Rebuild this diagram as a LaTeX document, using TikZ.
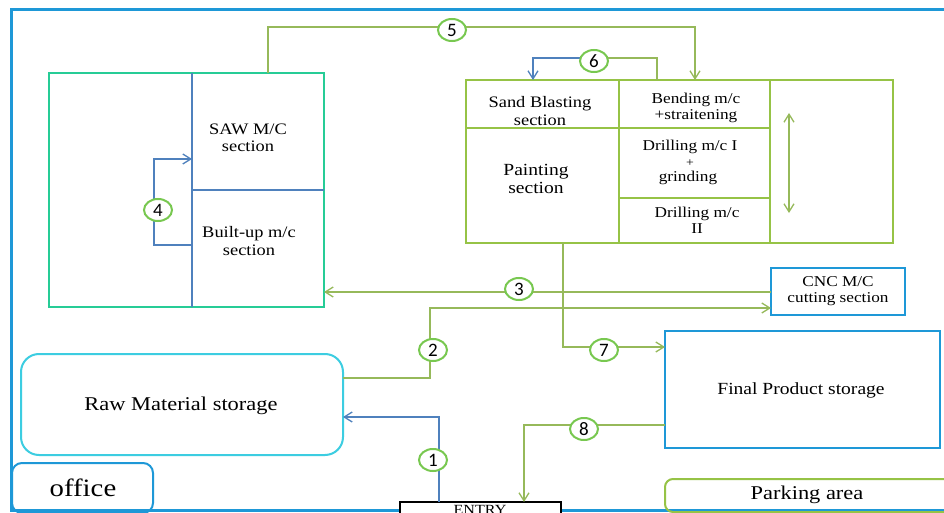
\documentclass[tikz,border=0pt]{standalone}
\usepackage{fontspec}
\setmainfont[FakeStretch=1.15]{Liberation Serif}
\newfontfamily\numfont{Carlito}
\usetikzlibrary{arrows.meta,shapes.geometric,calc}
\definecolor{framec}{RGB}{30,152,215}
\definecolor{tealc}{RGB}{38,204,150}
\definecolor{blueln}{RGB}{79,129,189}
\definecolor{greenbox}{RGB}{150,195,70}
\definecolor{greenln}{RGB}{150,185,90}
\definecolor{circc}{RGB}{120,200,80}
\definecolor{rawc}{RGB}{60,205,225}
\newcommand\myfsz[1]{\fontsize{#1}{\fpeval{#1*1.08}}\selectfont}
\tikzset{
  fs/.style={font=\myfsz{#1}},
  boxbase/.style={inner sep=0pt, outer sep=0pt, anchor=north west, line width=2.6pt},
  tealbox/.style={boxbase, draw=tealc},
  greenbx/.style={boxbase, draw=greenbox},
  bluebx/.style={boxbase, draw=framec},
  rawbx/.style={boxbase, draw=rawc, rounded corners=18pt, line width=2pt},
  officebx/.style={boxbase, draw=framec, rounded corners=10pt, line width=2pt},
  parkbx/.style={boxbase, draw=greenbox, rounded corners=8pt, line width=2pt},
  entrybx/.style={boxbase, draw=black, line width=2pt, fill=white},
  cell/.style={align=center, inner sep=0pt},
  num/.style={ellipse, draw=circc, line width=2pt, fill=white, minimum width=28pt, minimum height=22pt, inner sep=0pt, font=\numfont\fontsize{19}{19}\selectfont},
  arr/.style={-{Straight Barb[length=8pt,width=10pt]}},
  gline/.style={draw=greenln, line width=1.3pt},
  bline/.style={draw=blueln, line width=1.3pt},
  gdiv/.style={draw=greenbox, line width=1.3pt},
  bdiv/.style={draw=blueln, line width=1.3pt},
}
\begin{document}
\begin{tikzpicture}[x=1pt,y=-1pt]
\clip (0,0) rectangle (944,513);
\fill[white] (0,0) rectangle (944,513);
% outer frame
\draw[framec, line width=3pt] (11,10) rectangle (970,510);

% boxes
\node[tealbox, minimum width=275pt, minimum height=234pt] (saw) at (49,73) {};
\node[greenbx, minimum width=427pt, minimum height=163pt] (shop) at (466,80) {};
\node[bluebx, minimum width=134pt, minimum height=47pt] (cnc) at (771,268) {};
\node[bluebx, minimum width=275pt, minimum height=117pt] (final) at (665,331) {};
\node[rawbx, minimum width=322pt, minimum height=101pt] (raw) at (21,354) {};
\node[officebx, minimum width=141pt, minimum height=50pt] (office) at (12,463) {};
\node[parkbx, minimum width=300pt, minimum height=33pt] (park) at (665,479) {};
\node[entrybx, minimum width=161pt, minimum height=30pt] (entry) at (400,502) {};

% dividers
\draw[bdiv] (192,73) -- (192,307);
\draw[bdiv] (192,190) -- (324,190);
\draw[gdiv] (619,80) -- (619,243);
\draw[gdiv] (770,80) -- (770,243);
\draw[gdiv] (466,128) -- (770,128);
\draw[gdiv] (619,198) -- (770,198);

% texts
\node[cell, fs=16] (sawt) at (248,138) {SAW M/C\\section};
\node[cell, fs=16] (bult) at (249,241) {Built-up m/c\\section};
\node[cell, fs=16] (sandt) at (540,111) {Sand Blasting\\section};
\node[cell, fs=17] (paintt) at (536,179) {Painting\\section};
\node[cell, fs=15] (bendt) at (696,108) {Bending m/c\\+straitening};
\node[cell, fs=15] (drill1t) at (690,147) {Drilling m/c I};
\node[cell, fs=12] (plust) at (690,163) {+};
\node[cell, fs=15] (grindt) at (688,178) {grinding};
\node[cell, fs=15] (drill2t) at (697,220) {Drilling m/c\\II};
\node[cell, fs=15] (cnct) at (838,291) {CNC M/C\\cutting section};
\node[cell, fs=17] (finalt) at (801,390) {Final Product storage};
\node[cell, fs=19.5] (rawt) at (181,406) {Raw Material storage};
\node[cell, fs=25] (officet) at (83,488) {office};
\node[cell, fs=19.5] (parkt) at (807,495) {Parking area};
\node[cell, fs=14, anchor=north] (entryt) at (480,505) {ENTRY};

% double arrow
\coordinate (dtop) at (789,113);
\coordinate (dbot) at (789,213);
\draw[gline, {Straight Barb[length=8pt,width=10pt]}-{Straight Barb[length=8pt,width=10pt]}] (dtop) -- (dbot);

% connector 1
\coordinate (k1) at (439,417);
\draw[bline, arr] (entry.north -| k1) -- (k1) -- (raw.east |- k1);
% connector 2
\coordinate (k2a) at (430,378);
\coordinate (k2b) at (430,308);
\draw[gline, arr] (raw.east |- k2a) -- (k2a) -- (k2b) -- (cnc.west |- k2b);
% connector 3
\coordinate (k3) at (700,292);
\draw[gline, arr] (cnc.west |- k3) -- (saw.east |- k3);
% connector 4
\coordinate (k4a) at (192,245);
\coordinate (k4b) at (154,245);
\coordinate (k4c) at (192,159);
\draw[bline, arr] (k4a) -- (k4b) |- (k4c);
% connector 5
\coordinate (k5a) at (268,27);
\coordinate (k5b) at (695,27);
\draw[gline, arr] (saw.north -| k5a) -- (k5a) -- (k5b) -- (shop.north -| k5b);
% connector 6
\coordinate (k6a) at (657,58);
\coordinate (k6m) at (594,58);
\coordinate (k6b) at (533,58);
\draw[gline] (shop.north -| k6a) -- (k6a) -- (k6m);
\draw[bline, arr] (k6m) -- (k6b) -- (shop.north -| k6b);
% connector 7
\coordinate (k7) at (563,347);
\draw[gline, arr] (shop.south -| k7) -- (k7) -- (final.west |- k7);
% connector 8
\coordinate (k8) at (524,425);
\draw[gline, arr] (final.west |- k8) -- (k8) -- (entry.north -| k8);

% number markers
\node[num] (n1) at (433,460) {1};
\node[num] (n2) at (433,350) {2};
\node[num] (n3) at (519,289) {3};
\node[num] (n4) at (158,210) {4};
\node[num] (n5) at (452,30) {5};
\node[num] (n6) at (594,61) {6};
\node[num] (n7) at (604,350) {7};
\node[num] (n8) at (584,429) {8};
\end{tikzpicture}
\end{document}
